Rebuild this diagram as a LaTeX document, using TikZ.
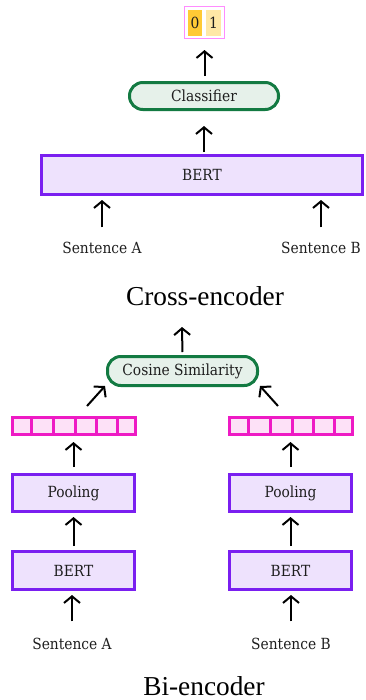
\documentclass[tikz,border=0pt]{standalone}
\usepackage{fontspec}
\setmainfont{Liberation Serif}
\newfontfamily\lblfont[FakeStretch=0.9]{DejaVu Serif}
\usetikzlibrary{arrows.meta}
\definecolor{purB}{HTML}{7A1FF0}
\definecolor{purF}{HTML}{EEE2FD}
\definecolor{grnB}{HTML}{137A42}
\definecolor{grnF}{HTML}{E6F1EA}
\definecolor{pnkB}{HTML}{EE1AC4}
\definecolor{pnkF}{HTML}{FDE1F7}
\definecolor{outB}{HTML}{FF8CFF}
\definecolor{zeroF}{HTML}{FFCA35}
\definecolor{oneF}{HTML}{FFE8A6}
\definecolor{ink}{HTML}{1E1E1E}
\begin{document}
\begin{tikzpicture}[x=0.75pt,y=-0.75pt,
  lbl/.style={font=\lblfont\fontsize{11.5}{13.5}\selectfont, text=ink},
  bertbox/.style={lbl, draw=purB, fill=purF, line width=2.25pt, inner sep=0pt},
  pillbox/.style={lbl, draw=grnB, fill=grnF, line width=2.25pt, inner sep=0pt, rounded corners=10pt},
  vecbox/.style={draw=pnkB, fill=pnkF, line width=2.25pt, inner sep=0pt, minimum width=92.25pt, minimum height=12.75pt},
  sent/.style={lbl, inner sep=0pt},
  title/.style={font=\fontsize{20.5}{24}\selectfont, inner sep=0pt},
  arr/.style={-{Straight Barb[length=5pt,width=12pt]}, line width=1.5pt, black}]
\useasboundingbox (0,0) rectangle (365,700);

% ---------- Cross-encoder ----------
\node[draw=outB, line width=0.75pt, minimum width=30pt, minimum height=24pt, inner sep=0pt] (out) at (204.5,22.5) {};
\node[lbl, fill=zeroF, minimum width=10.5pt, minimum height=19.5pt, inner sep=0pt] (c0) at (195,23) {0};
\node[lbl, fill=oneF, minimum width=11.25pt, minimum height=19.5pt, inner sep=0pt] (c1) at (213.5,23) {1};

\node[pillbox, minimum width=111.75pt, minimum height=20.25pt] (clf) at (204,96) {Classifier};
\node[bertbox, minimum width=240.75pt, minimum height=29.25pt] (bert) at (202,175) {BERT};

\node[sent] (sa) at (102,248) {Sentence A};
\node[sent] (sb) at (321,248) {Sentence B};

\draw[arr, shorten <=3.75pt, shorten >=8.25pt] (clf.north -| out.south) -- (out.south);
\draw[arr, shorten <=1.5pt, shorten >=11.25pt] (bert.north -| clf.south) -- (clf.south);
\draw[arr, shorten <=11pt, shorten >=3pt] (sa.north) -- (sa.north |- bert.south);
\draw[arr, shorten <=11pt, shorten >=3pt] (sb.north) -- (sb.north |- bert.south);

\node[title] (t1) at (205,296) {Cross-encoder};

% ---------- Bi-encoder ----------
\node[pillbox, minimum width=112.5pt, minimum height=21.75pt] (cos) at (182.5,371) {Cosine Similarity};
\coordinate (top) at (182,327);
\draw[arr, shorten <=2.25pt] (cos.north) -- (top);

\node[vecbox] (vl) at (74,426) {};
\node[vecbox] (vr) at (291,426) {};
\foreach \v in {vl,vr}{
  \foreach \dx in {15.6,31.9,48.15,64.35,80.1}{
    \draw[pnkB, line width=2.25pt] ([xshift=\dx pt]\v.north west) -- ([xshift=\dx pt]\v.south west);
  }
}
\coordinate (dlA) at (87,406);
\coordinate (dlB) at (105,386);
\coordinate (drA) at (278,406);
\coordinate (drB) at (260,386);
\draw[arr] (dlA) -- (dlB);
\draw[arr] (drA) -- (drB);

\node[bertbox, minimum width=91.5pt, minimum height=27.75pt] (pl) at (73.5,493) {Pooling};
\node[bertbox, minimum width=91.5pt, minimum height=27.75pt] (pr) at (290.5,493) {Pooling};
\node[bertbox, minimum width=91.5pt, minimum height=28.5pt] (bl) at (73.5,570.5) {BERT};
\node[bertbox, minimum width=91.5pt, minimum height=28.5pt] (br) at (290.5,570.5) {BERT};

\node[sent] (sal) at (72,644) {Sentence A};
\node[sent] (sbr) at (291,644) {Sentence B};

\draw[arr, shorten <=4.5pt, shorten >=4.5pt] (pl.north) -- (pl.north |- vl.south);
\draw[arr, shorten <=4.5pt, shorten >=4.5pt] (pr.north) -- (pr.north |- vr.south);
\draw[arr, shorten <=3pt, shorten >=3pt] (bl.north) -- (pl.south);
\draw[arr, shorten <=3pt, shorten >=3pt] (br.north) -- (pr.south);
\draw[arr, shorten <=12.5pt, shorten >=3pt] (sal.north) -- (sal.north |- bl.south);
\draw[arr, shorten <=12.5pt, shorten >=3pt] (sbr.north) -- (sbr.north |- br.south);

\node[title] (t2) at (204,686.5) {Bi-encoder};
\end{tikzpicture}
\end{document}
